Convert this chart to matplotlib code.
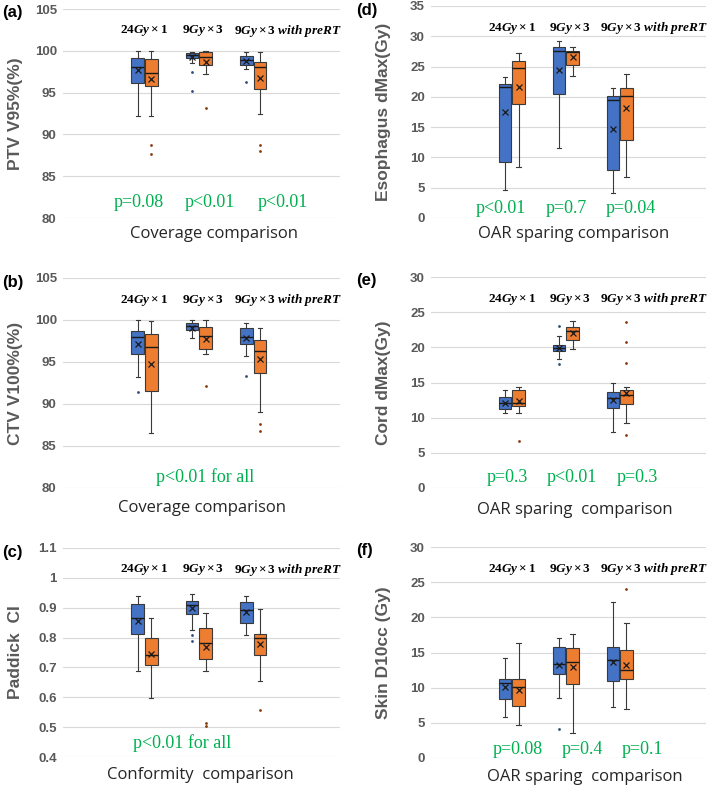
import numpy as np
import matplotlib.pyplot as plt
import matplotlib.transforms as mtrans

plt.rcParams['mathtext.fontset'] = 'custom'
plt.rcParams['mathtext.rm'] = 'Liberation Serif:bold'
plt.rcParams['mathtext.it'] = 'Liberation Serif:italic:bold'
plt.rcParams['mathtext.bf'] = 'Liberation Serif:bold'

BLUE = "#4472C4"
ORANGE = "#ED7D31"
GREEN = "#00B050"
GREY = "#595959"
SANS = "Open Sans"
BOLD_SANS = "Liberation Sans"

W, H = 709, 790

groups = [r'$\mathrm{24}Gy\times\mathrm{1}$',
          r'$\mathrm{9}Gy\times\mathrm{3}$',
          r'$\mathrm{9}Gy\times\mathrm{3}\ with\ preRT$']

# box order: 24Gy x1 (blue, orange), 9Gy x3 (blue, orange), 9Gy x3 preRT (blue, orange)

# (a) PTV V95%
a_lo = [92.2, 92.2, 98.6, 97.2, 97.8, 92.4]
a_q1 = [96.2, 95.8, 99.1, 98.3, 98.3, 95.4]
a_med = [98.1, 97.4, 99.5, 99.2, 98.9, 98.1]
a_q3 = [99.1, 99.0, 99.7, 99.8, 99.4, 98.7]
a_hi = [100.0, 100.0, 99.9, 100.0, 99.8, 99.9]
a_mean = [97.7, 96.6, 99.3, 98.7, 98.8, 96.8]
a_fliers = [[], [88.7, 87.6], [97.5, 95.2], [93.2], [96.3], [88.7, 88.0]]

# (b) CTV V100%
b_lo = [93.2, 86.5, 97.8, 96.0, 95.7, 89.1]
b_q1 = [95.9, 91.5, 98.8, 96.6, 97.1, 93.7]
b_med = [98.0, 96.8, 99.3, 98.1, 98.0, 96.3]
b_q3 = [98.7, 98.3, 99.7, 99.2, 99.0, 97.6]
b_hi = [100.0, 99.9, 100.0, 100.0, 99.6, 99.1]
b_mean = [97.2, 94.8, 99.1, 97.7, 97.8, 95.3]
b_fliers = [[91.4], [], [], [92.2], [93.3], [87.6, 86.8]]

# (c) Paddick CI
c_lo = [0.688, 0.597, 0.827, 0.688, 0.807, 0.656]
c_q1 = [0.812, 0.707, 0.880, 0.727, 0.849, 0.742]
c_med = [0.867, 0.741, 0.910, 0.783, 0.894, 0.798]
c_q3 = [0.911, 0.800, 0.923, 0.833, 0.919, 0.813]
c_hi = [0.940, 0.864, 0.946, 0.883, 0.938, 0.897]
c_mean = [0.856, 0.744, 0.899, 0.768, 0.886, 0.779]
c_fliers = [[], [], [0.809, 0.789], [0.513, 0.504], [], [0.558]]

# (d) Esophagus dMax
d_lo = [4.6, 8.5, 11.6, 23.4, 4.1, 6.8]
d_q1 = [9.2, 18.9, 20.5, 25.2, 7.9, 12.9]
d_med = [21.6, 24.7, 27.5, 27.4, 19.4, 20.1]
d_q3 = [22.1, 26.0, 28.2, 27.6, 20.2, 21.5]
d_hi = [23.2, 27.3, 29.2, 28.3, 21.4, 23.7]
d_mean = [17.5, 21.7, 24.4, 26.5, 14.7, 18.1]
d_fliers = [[], [], [], [], [], []]

# (e) Cord dMax
e_lo = [10.7, 10.7, 18.4, 19.8, 8.0, 9.3]
e_q1 = [11.2, 11.6, 19.5, 21.1, 11.4, 12.0]
e_med = [12.1, 12.1, 19.9, 22.3, 12.8, 13.2]
e_q3 = [12.9, 13.9, 20.3, 22.9, 13.7, 13.9]
e_hi = [13.9, 14.3, 21.6, 23.8, 15.0, 14.4]
e_mean = [12.1, 12.3, 19.9, 22.0, 12.5, 13.5]
e_fliers = [[], [6.7], [23.1, 17.7], [], [], [23.6, 20.8, 17.8, 7.6]]

# (f) Skin D10cc
f_lo = [5.9, 4.7, 8.5, 3.5, 7.3, 7.0]
f_q1 = [8.4, 7.4, 11.9, 10.5, 11.0, 11.2]
f_med = [10.6, 10.1, 13.3, 13.7, 13.9, 12.5]
f_q3 = [11.3, 11.3, 15.8, 15.6, 15.8, 15.3]
f_hi = [14.2, 16.4, 17.1, 17.7, 22.2, 19.2]
f_mean = [10.1, 9.7, 13.2, 13.0, 13.7, 13.2]
f_fliers = [[], [], [4.1], [], [], [24.0]]

panels = [
    dict(letter="(a)", data=(a_lo, a_q1, a_med, a_q3, a_hi, a_mean, a_fliers),
         ylabel="PTV V95%(%)", xlabel="Coverage comparison",
         yticks=np.arange(80, 106, 5), px=(63, 340, 9, 218), xlab=(0.545, 16),
         pvals=["p=0.08", "p<0.01", "p<0.01"], px_pos=[0.9, 2.2, 3.54], py=0.072),
    dict(letter="(b)", data=(b_lo, b_q1, b_med, b_q3, b_hi, b_mean, b_fliers),
         ylabel="CTV V100%(%)", xlabel="Coverage comparison",
         yticks=np.arange(80, 106, 5), px=(63, 340, 278, 488), xlab=(0.50, 20),
         pvals=["p<0.01 for all"], px_pos=[2.11], py=0.052),
    dict(letter="(c)", data=(c_lo, c_q1, c_med, c_q3, c_hi, c_mean, c_fliers),
         ylabel="Paddick  CI", xlabel="Conformity  comparison",
         yticks=np.arange(0.4, 1.15, 0.1), px=(63, 340, 548, 757), xlab=(0.495, 18),
         pvals=["p<0.01 for all"], px_pos=[1.70], py=0.067),
    dict(letter="(d)", data=(d_lo, d_q1, d_med, d_q3, d_hi, d_mean, d_fliers),
         ylabel="Esophagus dMax(Gy)", xlabel="OAR sparing comparison",
         yticks=np.arange(0, 36, 5), px=(431, 706, 6, 218), xlab=(0.52, 16),
         pvals=["p<0.01", "p=0.7", "p=0.04"], px_pos=[0.8, 2.0, 3.2], py=0.047),
    dict(letter="(e)", data=(e_lo, e_q1, e_med, e_q3, e_hi, e_mean, e_fliers),
         ylabel="Cord dMax(Gy)", xlabel="OAR sparing  comparison",
         yticks=np.arange(0, 31, 5), px=(431, 706, 277, 488), xlab=(0.524, 22),
         pvals=["p=0.3", "p<0.01", "p=0.3"], px_pos=[0.92, 2.12, 3.32], py=0.052),
    dict(letter="(f)", data=(f_lo, f_q1, f_med, f_q3, f_hi, f_mean, f_fliers),
         ylabel="Skin D10cc (Gy)", xlabel="OAR sparing  comparison",
         yticks=np.arange(0, 31, 5), px=(431, 706, 547, 758), xlab=(0.56, 19),
         pvals=["p=0.08", "p=0.4", "p=0.1"], px_pos=[1.1, 2.3, 3.42], py=0.038),
]

fig = plt.figure(figsize=(W / 100, H / 100), dpi=100)

positions = [0.875, 1.125, 1.875, 2.125, 2.875, 3.125]
face = [BLUE, ORANGE] * 3
flier_col = ["#2F4B7C", "#843C0C"] * 3

for p in panels:
    x0, x1, y0, y1 = p["px"]
    ax = fig.add_axes([x0 / W, 1 - y1 / H, (x1 - x0) / W, (y1 - y0) / H])
    lo, q1, med, q3, hi, mean, fl = p["data"]
    stats = [dict(whislo=lo[i], q1=q1[i], med=med[i], q3=q3[i], whishi=hi[i],
                  mean=mean[i], fliers=fl[i]) for i in range(6)]
    bp = ax.bxp(stats, positions=positions, widths=0.23, capwidths=0.08,
                patch_artist=True, showmeans=True,
                boxprops=dict(edgecolor="#3a3a3a", linewidth=0.8),
                medianprops=dict(color="#1a1a1a", linewidth=1.0),
                whiskerprops=dict(color="#3a3a3a", linewidth=0.8),
                capprops=dict(color="#3a3a3a", linewidth=0.8),
                meanprops=dict(marker="x", markeredgecolor="#1a1a1a",
                               markersize=4, markeredgewidth=0.9),
                flierprops=dict(marker="o", markersize=2, markeredgewidth=0))
    for i, box in enumerate(bp["boxes"]):
        box.set_facecolor(face[i])
        bp["fliers"][i].set_markerfacecolor(flier_col[i])

    yt = p["yticks"]
    ax.set_ylim(yt[0], yt[-1])
    ax.set_yticks(yt)
    ax.set_yticklabels([f"{v:g}" for v in np.round(yt, 2)])
    ax.set_xlim(-0.5, 4.6)
    ax.set_xticks([])
    for s in ax.spines.values():
        s.set_visible(False)
    ax.yaxis.grid(True, color="#d9d9d9", linewidth=0.8)
    ax.set_axisbelow(True)
    ax.tick_params(axis="y", length=0, pad=4.5, labelsize=9.5, labelcolor=GREY)
    for lab in ax.get_yticklabels():
        lab.set_fontweight("bold")
        lab.set_family(BOLD_SANS)

    wpx = x1 - x0
    hpx = y1 - y0
    ax.set_ylabel(p["ylabel"], fontsize=12.5, fontweight="bold", color=GREY,
                  family=BOLD_SANS)
    ax.yaxis.set_label_coords(-40 / wpx, 0.5)

    ax.text(p["xlab"][0], -p["xlab"][1] / hpx, p["xlabel"], transform=ax.transAxes,
            ha="center", va="center", fontsize=12, family=SANS, color="#262626")

    trans = mtrans.blended_transform_factory(ax.transData, ax.transAxes)
    gx = [1.0, 2.07, 3.64]
    for g, lab in enumerate(groups):
        ax.text(gx[g], 0.895, lab, transform=trans, ha="center", va="center",
                fontsize=9.5, color="black")
    for txt, xp in zip(p["pvals"], p["px_pos"]):
        ax.text(xp, p["py"], txt, transform=trans, ha="center", va="center",
                fontsize=13, family="Liberation Serif", color=GREEN)

    fig.text((x0 - 61) / W if x0 < 200 else (x0 - 75) / W, 1 - (y0 + 4) / H,
             p["letter"], fontsize=12, fontweight="bold", family="Liberation Sans",
             ha="left", va="center")

fig.savefig("out.png", dpi=100)
